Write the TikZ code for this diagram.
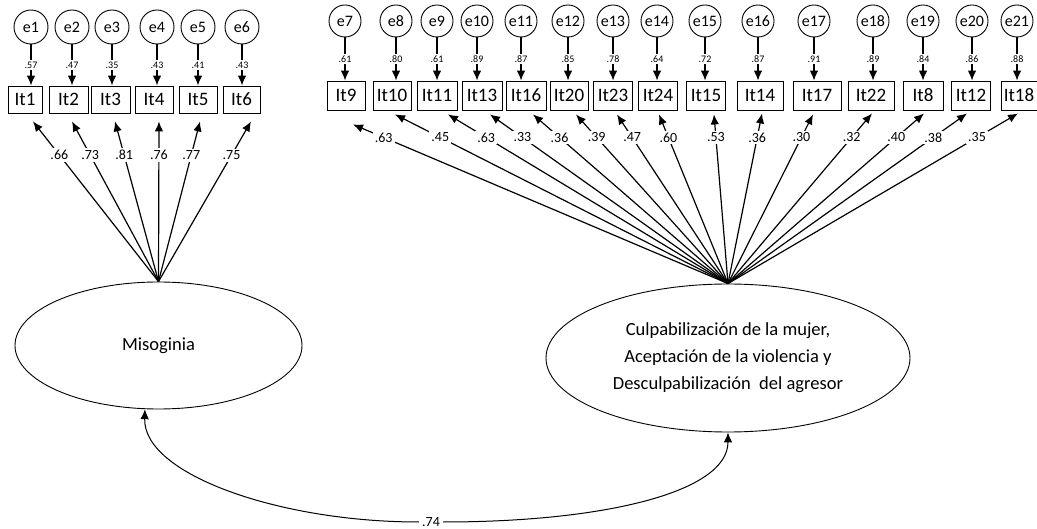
\documentclass[tikz,border=0pt]{standalone}
\usepackage{fontspec}
\setmainfont{Carlito}
\usetikzlibrary{shapes,arrows.meta,positioning,calc}

\begin{document}
\begin{tikzpicture}[x=1pt,y=-1pt,
    item/.style={draw,line width=0.9pt,inner sep=0pt,font=\fontsize{19}{20}\selectfont},
    err/.style={draw,circle,line width=0.9pt,inner sep=0pt,font=\fontsize{16}{17}\selectfont},
    lat/.style={draw,ellipse,line width=0.9pt,inner sep=0pt,align=center,font=\fontsize{18.5}{27}\selectfont},
    load/.style={line width=1.2pt,-{Latex[length=10pt,width=8.5pt]}},
    wt/.style={fill=white,inner sep=2pt,font=\fontsize{14}{15}\selectfont},
    ev/.style={fill=white,inner sep=1.5pt,font=\fontsize{10}{11}\selectfont}]

    \useasboundingbox (0,0) rectangle (1037,529);

    % Latent factors
    \node[lat,minimum width=287pt,minimum height=127pt] (mis) at (158.5,345.5) {Misoginia};
    \node[lat,minimum width=364pt,minimum height=148pt] (cul) at (728,358)
        {Culpabilización de la mujer,\\Aceptación de la violencia y\\Desculpabilización\ \ del agresor};

    % Misoginia items
    \foreach \n/\x/\w/\ex/\ev/\lv/\dx in {1/25/34/31/.57/.66/8, 2/68.5/39/72/.47/.73/3.5,
        3/110.5/39/112/.35/.81/4.5, 4/154/38/157/.43/.76/5, 5/198/38/198/.41/.77/2,
        6/241.5/37/242/.43/.75/9.5}{
        \node[item,minimum width=\w pt,minimum height=27pt] (It\n) at (\x,99.5) {It\n};
        \node[err,minimum size=34pt] (e\n) at (\ex,27) {e\n};
        \draw[load] (e\n.south) -- node[ev]{\ev} (e\n.south |- It\n.north);
        \draw[load] (mis.north) -- node[wt,pos=0.79]{\lv} ([xshift=\dx pt,yshift=-8pt]It\n.south);
    }

    % Culpabilizacion items
    \foreach \n/\x/\w/\e/\ex/\ev/\lv/\dx/\gap in {9/346/38/7/345/.61/.63/7/14,
        10/392/38/8/396/.80/.45/3/4, 11/437/40/9/437/.61/.63/11/4,
        13/482/40/10/477/.89/.33/8/4, 16/526/40/11/521/.87/.36/7/4,
        20/569/38/12/568/.85/.39/7/4, 23/613/39/13/613/.78/.47/4/4,
        24/658/39/14/657/.64/.60/1/4, 15/706/39/15/705/.72/.53/8/4,
        14/760/46/16/758/.87/.36/2/3, 17/817/48/17/814/.91/.30/-4/4,
        22/871/46/18/873/.89/.32/1/3, 8/923/40/19/923/.84/.40/1/3,
        12/971/39/20/972/.86/.38/-4/3, 18/1019/36/21/1017/.88/.35/-1/3}{
        \pgfmathsetmacro\p{146/(173-\gap)}
        \node[item,minimum width=\w pt,minimum height=29pt] (It\n) at (\x,95.5) {It\n};
        \node[err,minimum size=32pt] (e\e) at (\ex,21) {e\e};
        \draw[load] (e\e.south) -- node[ev]{\ev} (e\e.south |- It\n.north);
        \draw[load] (cul.north) -- node[wt,pos=\p]{\lv} ([xshift=\dx pt,yshift=-\gap pt]It\n.south);
    }

    % Correlation
    \node[wt,inner sep=3pt] (r) at (431,522) {.74};
    \draw[load,line width=1pt] (r.west) .. controls +(-140,0) and +(-2,65) .. (mis.258);
    \draw[load,line width=1pt] (r.east) .. controls +(160,0) and +(0,60) .. (cul.south);
\end{tikzpicture}
\end{document}
